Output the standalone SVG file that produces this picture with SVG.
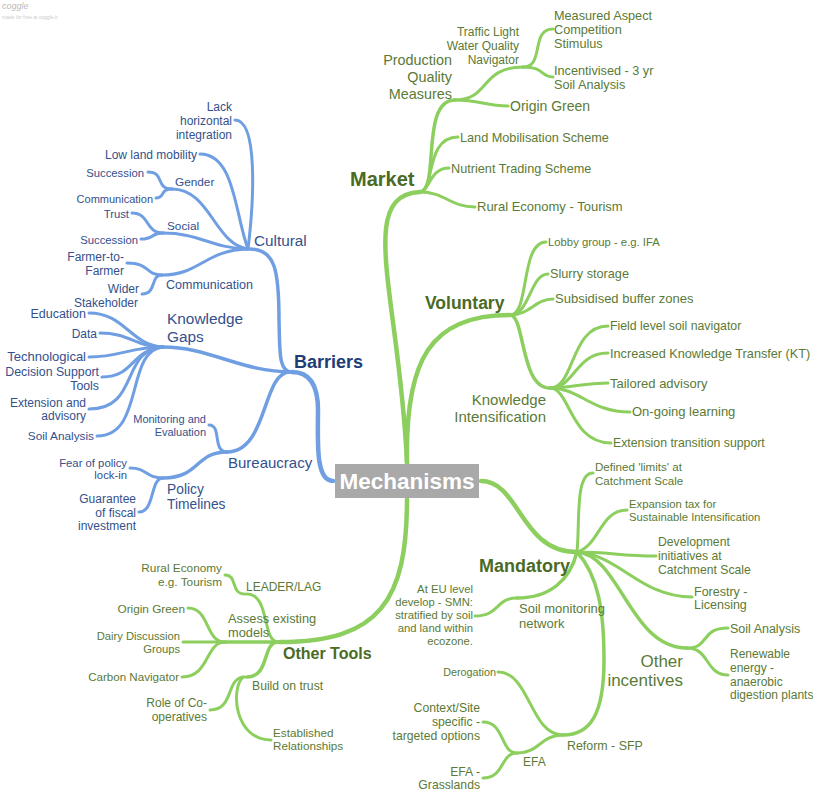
<svg xmlns="http://www.w3.org/2000/svg" width="813" height="791" viewBox="0 0 813 791">
<style>
text{font-family:"Liberation Sans",Arial,sans-serif}
.g{fill:#5b7a36}
.gh{fill:#4a6a25;font-weight:bold}
.b{fill:#34508d}
.bh{fill:#213d75;font-weight:bold}
.r{text-anchor:end}
.lg path{fill:none;stroke:#8ccf5e;stroke-linecap:round}
.lb path{fill:none;stroke:#6f9fe2;stroke-linecap:round}
.w1{stroke-width:4.5}
.w2{stroke-width:3.5}
.w3{stroke-width:3}
</style>
<rect width="813" height="791" fill="#fff"/>
<g id="logo">
<text x="2" y="9" font-size="9" fill="#bbb" font-style="italic">coggle</text>
<text x="2" y="19" font-size="5" fill="#ccc">made for free at coggle.it</text>
</g>
<g id="connectors">
<g class="lg">
<path class="w1" d="M407,463 C400,300 355,195 420,192"/>
<path class="w2" d="M420,192 C440,190 420,100 455,100"/>
<path class="w3" d="M455,100 C490,100 480,67 523,67"/>
<path class="w3" d="M523,67 C545,67 530,29 553,29"/>
<path class="w3" d="M523,67 C545,67 540,77 553,77"/>
<path class="w3" d="M455,100 C480,100 485,106 508,106"/>
<path class="w3" d="M420,192 C435,190 425,137 458,137"/>
<path class="w3" d="M420,192 C430,190 430,168 449,168"/>
<path class="w3" d="M420,192 C445,192 450,207 475,207"/>
<path class="w1" d="M407,463 C405,360 430,315 510,315"/>
<path class="w3" d="M510,315 C530,315 520,242 546,242"/>
<path class="w3" d="M510,315 C530,315 530,274 548,274"/>
<path class="w3" d="M510,315 C530,315 535,299 553,299"/>
<path class="w2" d="M510,315 C525,315 520,388 550,388"/>
<path class="w3" d="M550,388 C575,388 570,326 608,326"/>
<path class="w3" d="M550,388 C575,388 575,353 608,353"/>
<path class="w3" d="M550,388 C575,388 580,383 608,383"/>
<path class="w3" d="M550,388 C580,388 590,412 630,412"/>
<path class="w3" d="M550,388 C570,388 570,443 611,443"/>
<path class="w1" d="M481,481 C520,481 520,552 577,552"/>
<path class="w3" d="M577,552 C580,520 575,473 593,473"/>
<path class="w3" d="M577,552 C600,545 600,510 627,510"/>
<path class="w3" d="M577,552 C610,552 620,556 656,556"/>
<path class="w3" d="M577,552 C620,555 640,597 692,597"/>
<path class="w2" d="M577,552 C620,555 630,648 687,648"/>
<path class="w3" d="M687,648 C710,648 700,628 728,628"/>
<path class="w3" d="M687,648 C710,648 705,675 728,675"/>
<path class="w2" d="M577,552 C570,580 550,598 517,598"/>
<path class="w3" d="M517,598 C495,598 500,616 475,616"/>
<path class="w2" d="M577,552 C598,575 604,610 604,660 C604,715 590,735 563,735"/>
<path class="w3" d="M563,735 C530,735 530,672 498,672"/>
<path class="w3" d="M563,735 C540,735 540,753 517,753"/>
<path class="w3" d="M517,753 C500,753 505,722 483,722"/>
<path class="w3" d="M517,753 C500,753 505,778 483,778"/>
<path class="w1" d="M407,499 C407,600 380,642 280,642"/>
<path class="w2" d="M278,642 L225,642"/>
<path class="w3" d="M278,642 C262,642 270,594 247,594"/>
<path class="w3" d="M245,594 C230,594 238,575 225,575"/>
<path class="w3" d="M225,642 C205,642 210,608 188,608"/>
<path class="w3" d="M225,642 L183,642"/>
<path class="w3" d="M225,642 C205,642 210,677 182,677"/>
<path class="w2" d="M278,642 C262,642 270,677 247,677"/>
<path class="w3" d="M245,677 C225,677 235,710 210,710"/>
<path class="w3" d="M243,677 C230,690 235,740 271,740"/>
</g>
<g class="lb">
<path class="w1" d="M333,481 C315,481 318,440 318,410 C318,385 310,372 292,372"/>
<path class="w2" d="M292,372 C278,372 280,350 279,320 C279,270 275,249 250,249"/>
<path class="w3" d="M248,249 C254,200 258,120 235,120"/>
<path class="w3" d="M248,249 C235,215 235,154 200,154"/>
<path class="w3" d="M248,249 C215,245 210,189 172,189"/>
<path class="w3" d="M172,189 C155,189 165,172 148,172"/>
<path class="w3" d="M172,189 C160,189 165,198 156,198"/>
<path class="w3" d="M248,249 C210,248 200,233 163,233"/>
<path class="w3" d="M163,233 C145,233 150,213 132,213"/>
<path class="w3" d="M163,233 C150,233 155,239 141,239"/>
<path class="w3" d="M248,249 C205,250 200,275 162,275"/>
<path class="w3" d="M162,275 C145,275 150,263 127,263"/>
<path class="w3" d="M162,275 C150,275 157,294 142,294"/>
<path class="w2" d="M292,372 C240,372 210,347 163,347"/>
<path class="w3" d="M163,347 C130,345 125,313 89,313"/>
<path class="w3" d="M163,347 C135,347 130,333 100,333"/>
<path class="w3" d="M163,347 C130,347 120,357 89,357"/>
<path class="w3" d="M163,347 C130,350 135,377 102,377"/>
<path class="w3" d="M163,347 C120,350 140,409 89,409"/>
<path class="w3" d="M163,347 C125,350 145,436 97,436"/>
<path class="w2" d="M290,372 C262,372 268,452 227,452"/>
<path class="w3" d="M227,452 C212,452 222,425 209,425"/>
<path class="w2" d="M227,452 C195,452 200,478 163,478"/>
<path class="w3" d="M163,478 C145,478 148,468 130,468"/>
<path class="w3" d="M163,478 C150,478 155,512 139,512"/>
</g>
</g>
<g id="mechanisms">
<rect x="335" y="464" width="144" height="34" fill="#a9a9a9"/>
<text x="407" y="489" font-size="22.5" font-weight="bold" fill="#fff" text-anchor="middle">Mechanisms</text>
</g>
<g id="market">
<text class="gh" x="350" y="186" font-size="20">Market</text>
<text class="g r" x="452" y="65" font-size="14.4">Production</text>
<text class="g r" x="452" y="82" font-size="14.4">Quality</text>
<text class="g r" x="452" y="99" font-size="14.4">Measures</text>
<text class="g r" x="519" y="36" font-size="12">Traffic Light</text>
<text class="g r" x="519" y="50" font-size="12">Water Quality</text>
<text class="g r" x="519" y="64" font-size="12">Navigator</text>
<text class="g" x="554" y="20" font-size="12.7">Measured Aspect</text>
<text class="g" x="554" y="34" font-size="12.7">Competition</text>
<text class="g" x="554" y="48" font-size="12.7">Stimulus</text>
<text class="g" x="554" y="75" font-size="12.7">Incentivised - 3 yr</text>
<text class="g" x="554" y="89" font-size="12.7">Soil Analysis</text>
<text class="g" x="510" y="111" font-size="14">Origin Green</text>
<text class="g" x="460" y="142" font-size="12.7">Land Mobilisation Scheme</text>
<text class="g" x="451" y="173" font-size="12.7">Nutrient Trading Scheme</text>
<text class="g" x="477" y="211" font-size="13">Rural Economy - Tourism</text>
</g>
<g id="voluntary">
<text class="gh" x="425" y="309" font-size="17.5">Voluntary</text>
<text class="g" x="548" y="246" font-size="11.3">Lobby group - e.g. IFA</text>
<text class="g" x="550" y="278" font-size="12.7">Slurry storage</text>
<text class="g" x="555" y="303" font-size="13">Subsidised buffer zones</text>
<text class="g r" x="546" y="405" font-size="15">Knowledge</text>
<text class="g r" x="546" y="422" font-size="15">Intensification</text>
<text class="g" x="610" y="330" font-size="12.3">Field level soil navigator</text>
<text class="g" x="610" y="358" font-size="12.7">Increased Knowledge Transfer (KT)</text>
<text class="g" x="610" y="388" font-size="13">Tailored advisory</text>
<text class="g" x="632" y="416" font-size="13">On-going learning</text>
<text class="g" x="613" y="447" font-size="12.3">Extension transition support</text>
</g>
<g id="mandatory">
<text class="gh" x="479" y="572" font-size="18">Mandatory</text>
<text class="g" x="595" y="471" font-size="11.6">Defined 'limits' at</text>
<text class="g" x="595" y="485" font-size="11.6">Catchment Scale</text>
<text class="g" x="629" y="508" font-size="11.3">Expansion tax for</text>
<text class="g" x="629" y="521" font-size="11.3">Sustainable Intensification</text>
<text class="g" x="658" y="546" font-size="12.2">Development</text>
<text class="g" x="658" y="560" font-size="12.2">initiatives at</text>
<text class="g" x="658" y="574" font-size="12.2">Catchment Scale</text>
<text class="g" x="694" y="596" font-size="12.5">Forestry -</text>
<text class="g" x="694" y="609" font-size="12.5">Licensing</text>
<text class="g r" x="683" y="667" font-size="17">Other</text>
<text class="g r" x="683" y="686" font-size="17">incentives</text>
<text class="g" x="730" y="633" font-size="12.5">Soil Analysis</text>
<text class="g" x="730" y="658" font-size="12">Renewable</text>
<text class="g" x="730" y="672" font-size="12">energy -</text>
<text class="g" x="730" y="686" font-size="12">anaerobic</text>
<text class="g" x="730" y="699" font-size="12">digestion plants</text>
<text class="g" x="519" y="613" font-size="13">Soil monitoring</text>
<text class="g" x="519" y="628" font-size="13">network</text>
<text class="g r" x="473" y="593" font-size="11.3">At EU level</text>
<text class="g r" x="473" y="606" font-size="11.3">develop - SMN:</text>
<text class="g r" x="473" y="619" font-size="11.3">stratified by soil</text>
<text class="g r" x="473" y="632" font-size="11.3">and land within</text>
<text class="g r" x="473" y="645" font-size="11.3">ecozone.</text>
<text class="g" x="567" y="750" font-size="12.4">Reform - SFP</text>
<text class="g r" x="496" y="676" font-size="10.8">Derogation</text>
<text class="g" x="523" y="766" font-size="12">EFA</text>
<text class="g r" x="480" y="712" font-size="12.2">Context/Site</text>
<text class="g r" x="480" y="726" font-size="12.2">specific -</text>
<text class="g r" x="480" y="740" font-size="12.2">targeted options</text>
<text class="g r" x="480" y="776" font-size="12.2">EFA -</text>
<text class="g r" x="480" y="789" font-size="12.2">Grasslands</text>
</g>
<g id="other-tools">
<text class="gh" x="283" y="659" font-size="16">Other Tools</text>
<text class="g" x="228" y="623" font-size="12.8">Assess existing</text>
<text class="g" x="228" y="637" font-size="12.8">models</text>
<text class="g" x="246" y="591" font-size="12">LEADER/LAG</text>
<text class="g r" x="222" y="572" font-size="11.8">Rural Economy</text>
<text class="g r" x="222" y="586" font-size="11.8">e.g. Tourism</text>
<text class="g r" x="185" y="613" font-size="11.8">Origin Green</text>
<text class="g r" x="180" y="640" font-size="11.2">Dairy Discussion</text>
<text class="g r" x="180" y="653" font-size="11.2">Groups</text>
<text class="g r" x="179" y="681" font-size="11.6">Carbon Navigator</text>
<text class="g" x="252" y="690" font-size="12.2">Build on trust</text>
<text class="g r" x="207" y="707" font-size="12">Role of Co-</text>
<text class="g r" x="207" y="721" font-size="12">operatives</text>
<text class="g" x="273" y="737" font-size="11.7">Established</text>
<text class="g" x="273" y="750" font-size="11.7">Relationships</text>
</g>
<g id="barriers">
<text class="bh" x="294" y="368" font-size="18">Barriers</text>
<text class="b" x="254" y="246" font-size="15.3">Cultural</text>
<text class="b r" x="232" y="111" font-size="12">Lack</text>
<text class="b r" x="232" y="125" font-size="12">horizontal</text>
<text class="b r" x="232" y="139" font-size="12">integration</text>
<text class="b r" x="197" y="159" font-size="12">Low land mobility</text>
<text class="b" x="175" y="186" font-size="11.8">Gender</text>
<text class="b r" x="144" y="177" font-size="11.3">Succession</text>
<text class="b r" x="153" y="203" font-size="11">Communication</text>
<text class="b" x="167" y="230" font-size="11.8">Social</text>
<text class="b r" x="129" y="218" font-size="11.3">Trust</text>
<text class="b r" x="138" y="244" font-size="11.3">Succession</text>
<text class="b" x="166" y="289" font-size="12.5">Communication</text>
<text class="b r" x="124" y="261" font-size="12">Farmer-to-</text>
<text class="b r" x="124" y="275" font-size="12">Farmer</text>
<text class="b r" x="139" y="293" font-size="12">Wider</text>
<text class="b r" x="138" y="307" font-size="12">Stakeholder</text>
<text class="b" x="167" y="324" font-size="15.4">Knowledge</text>
<text class="b" x="167" y="342" font-size="15.4">Gaps</text>
<text class="b r" x="86" y="318" font-size="12.5">Education</text>
<text class="b r" x="97" y="338" font-size="12">Data</text>
<text class="b r" x="86" y="361" font-size="13">Technological</text>
<text class="b r" x="99" y="376" font-size="12.3">Decision Support</text>
<text class="b r" x="99" y="390" font-size="12.3">Tools</text>
<text class="b r" x="86" y="407" font-size="12">Extension and</text>
<text class="b r" x="86" y="420" font-size="12">advisory</text>
<text class="b r" x="94" y="440" font-size="11.8">Soil Analysis</text>
<text class="b" x="228" y="468" font-size="15">Bureaucracy</text>
<text class="b r" x="206" y="423" font-size="11">Monitoring and</text>
<text class="b r" x="206" y="436" font-size="11">Evaluation</text>
<text class="b" x="167" y="494" font-size="13.8">Policy</text>
<text class="b" x="167" y="509" font-size="13.8">Timelines</text>
<text class="b r" x="127" y="467" font-size="11.3">Fear of policy</text>
<text class="b r" x="127" y="479" font-size="11.3">lock-in</text>
<text class="b r" x="136" y="503" font-size="12">Guarantee</text>
<text class="b r" x="136" y="517" font-size="12">of fiscal</text>
<text class="b r" x="136" y="530" font-size="12">investment</text>
</g>
</svg>
